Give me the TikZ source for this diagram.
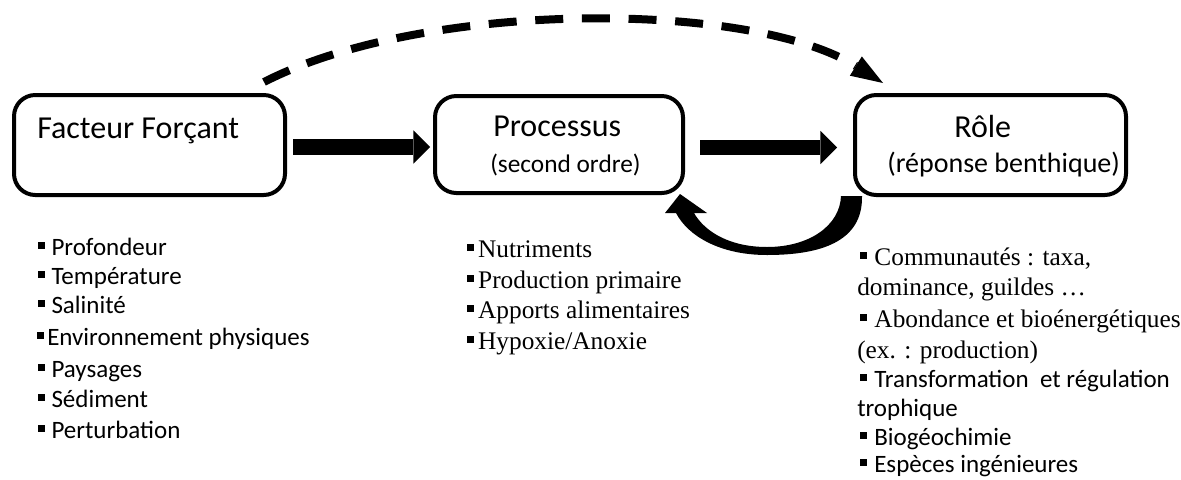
\documentclass[tikz,border=0pt]{standalone}
\usepackage{fontspec}
\setmainfont{Carlito}
\newfontfamily\tnr{Liberation Serif}
\usetikzlibrary{arrows.meta,calc}
\newcommand\sqb{\rule[0.23em]{0.28em}{0.28em}}
\begin{document}
\begin{tikzpicture}[x=0.75pt,y=-0.75pt,
  box/.style={draw,line width=3pt,rounded corners=16pt,inner sep=0pt},
  txt/.style={inner sep=0pt,anchor=base west},
  title/.style={txt,font=\fontsize{24pt}{28pt}\selectfont},
  sub/.style={txt,font=\fontsize{19pt}{22pt}\selectfont},
  sansitem/.style={txt,font=\fontsize{18.75pt}{22pt}\selectfont},
  serifitem/.style={txt,font=\tnr\fontsize{19pt}{22pt}\selectfont},
  blockarrow/.style={line width=11.5pt,-{Triangle[length=12.5pt,width=25pt,line width=0pt]}},
  dasharrow/.style={line width=6pt,dash pattern=on 21pt off 14pt,-{Triangle[length=24pt,width=17pt,line width=0pt]}},
]
\useasboundingbox (0,0) rectangle (1181,479);
\clip (0,0) rectangle (1181,479);
% boxes
\node[box,minimum width=203.25pt,minimum height=75pt] (b1) at (149.5,145) {};
\node[box,minimum width=186pt,minimum height=72.75pt] (b2) at (559,144.5) {};
\node[box,minimum width=203.25pt,minimum height=75pt] (b3) at (990.5,145) {};
% titles
\node[title] (t1) at (37,138) {Facteur Forçant};
\node[title] (t2) at (493,136) {Processus};
\node[sub] (t2b) at (490,172) {(second ordre)};
\node[title] (t3) at (954,137) {Rôle};
\node[sub,font=\fontsize{21pt}{24pt}\selectfont] (t3b) at (887,172) {(réponse benthique)};
% block arrows
\draw[blockarrow,shorten <=4.5pt,shorten >=2.25pt] ($(b1.east)+(0,2)$) -- ($(b2.west)+(0,2.5)$);
\draw[blockarrow,shorten <=11.25pt,shorten >=12pt] ($(b2.east)+(0,3)$) -- ($(b3.west)+(0,2.5)$);
% dashed arrow
\coordinate (dA) at ($(b1.north east)+(-23,-11)$);
\coordinate (dB) at ($(b3.north west)+(30,-10)$);
\draw[dasharrow] (dA) .. controls (424,0) and (750,0) .. (dB);
% feedback arrow
\coordinate (fbA) at ($(b3.south west)+(9,-1)$);
\coordinate (fbB) at ($(b3.south west)+(-12,-1)$);
\coordinate (fbT) at ($(b2.south east)+(-5,-1)$);
\fill (fbA) .. controls (863,242) and (820,255) .. (767,255)
  .. controls (720,255) and (688,236) .. (676,213) -- (665,213) -- (fbT) -- (707,213) -- (694,213)
  .. controls (705,232) and (730,247) .. (767,247)
  .. controls (810,247) and (840,225) .. (fbB) -- cycle;
% left list
\node[sansitem] (l1) at (38,255) {\sqb\hspace{0.25em}Profondeur};
\node[sansitem] (l2) at (38,284) {\sqb\hspace{0.25em}Température};
\node[sansitem] (l3) at (38,313) {\sqb\hspace{0.25em}Salinité};
\node[sansitem] (l4) at (37,345) {\sqb\hspace{0.12em}Environnement physiques};
\node[sansitem] (l5) at (38,377) {\sqb\hspace{0.25em}Paysages};
\node[sansitem] (l6) at (38,407) {\sqb\hspace{0.25em}Sédiment};
\node[sansitem] (l7) at (38,438) {\sqb\hspace{0.25em}Perturbation};
% middle list
\node[serifitem] (m1) at (467,257) {\sqb\hspace{0.15em}Nutriments};
\node[serifitem] (m2) at (467,288) {\sqb\hspace{0.15em}Production primaire};
\node[serifitem] (m3) at (467,318) {\sqb\hspace{0.15em}Apports alimentaires};
\node[serifitem] (m4) at (467,349) {\sqb\hspace{0.15em}Hypoxie/Anoxie};
% right list
\node[serifitem] (r1) at (860,265) {\sqb\hspace{0.28em}Communautés : taxa,};
\node[serifitem] (r2) at (857,295) {dominance, guildes …};
\node[serifitem] (r3) at (860,327) {\sqb\hspace{0.28em}Abondance et bioénergétiques};
\node[serifitem] (r4) at (857,358) {(ex. : production)};
\node[sansitem] (r5) at (860,387) {\sqb\hspace{0.28em}Transformation\ \ et régulation};
\node[sansitem] (r6) at (857,416) {trophique};
\node[sansitem] (r7) at (860,445) {\sqb\hspace{0.28em}Biogéochimie};
\node[sansitem] (r8) at (860,472) {\sqb\hspace{0.28em}Espèces ingénieures};
\end{tikzpicture}
\end{document}
